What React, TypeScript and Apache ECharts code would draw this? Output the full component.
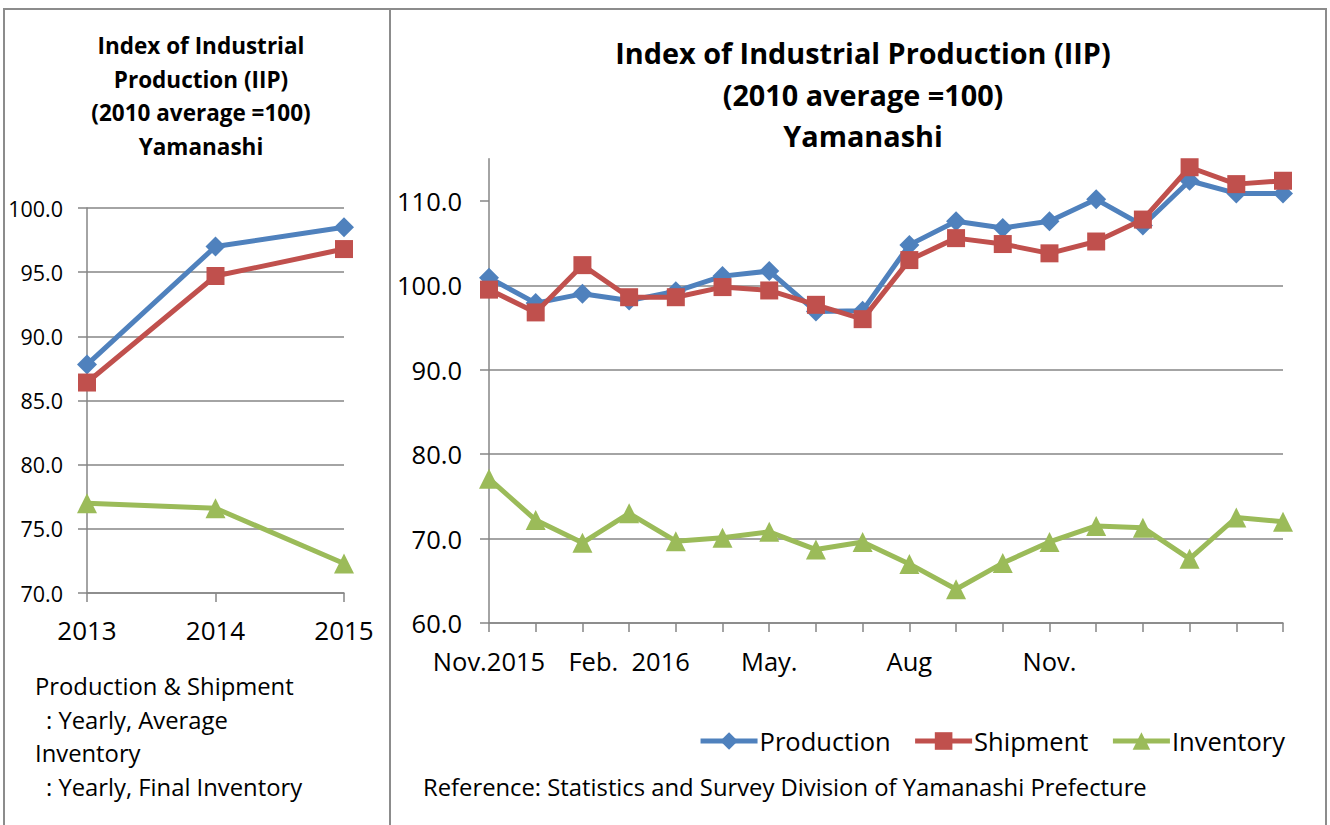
import React, { useEffect, useRef } from 'react';
import * as echarts from 'echarts';

const yearCategories = ['2013', '2014', '2015'];
const yearProduction = [87.8, 97.0, 98.5];
const yearShipment = [86.4, 94.7, 96.8];
const yearInventory = [77.0, 76.6, 72.3];
const leftYTicks = [70, 75, 80, 85, 90, 95, 100];

const monthCategories = [
  'Nov.2015', 'Dec.2015', 'Jan.2016', 'Feb.2016', 'Mar.2016', 'Apr.2016',
  'May.2016', 'Jun.2016', 'Jul.2016', 'Aug.2016', 'Sep.2016', 'Oct.2016',
  'Nov.2016', 'Dec.2016', 'Jan.2017', 'Feb.2017', 'Mar.2017', 'Apr.2017',
];
const monthLabels = [
  'Nov.2015', '', '', 'Feb.  2016', '', '', 'May.', '', '', 'Aug', '', '',
  'Nov.', '', '', '', '', '',
];
const monthProduction = [100.9, 97.9, 99.0, 98.2, 99.3, 101.1, 101.7, 96.9, 97.0, 104.8, 107.6, 106.8, 107.6, 110.2, 107.1, 112.4, 110.9, 110.9];
const monthShipment = [99.5, 96.8, 102.4, 98.6, 98.6, 99.8, 99.4, 97.7, 96.0, 103.0, 105.6, 104.9, 103.8, 105.2, 107.8, 114.0, 112.0, 112.4];
const monthInventory = [77.1, 72.2, 69.5, 73.0, 69.7, 70.1, 70.8, 68.7, 69.6, 67.0, 64.0, 67.1, 69.6, 71.5, 71.3, 67.6, 72.5, 72.0];
const rightYTicks = [60, 70, 80, 90, 100, 110];

const leftTitle = 'Index of Industrial\nProduction (IIP)\n(2010 average =100)\nYamanashi';
const rightTitle = 'Index of Industrial Production (IIP)\n(2010 average =100)\nYamanashi';
const noteLines = ['Production & Shipment', '  : Yearly, Average', 'Inventory', '  : Yearly, Final Inventory'];
const referenceText = 'Reference: Statistics and Survey Division of Yamanashi Prefecture';

const FONT = '"Open Sans", "Noto Sans", sans-serif';
const BLUE = '#4F81BD';
const RED = '#C0504D';
const GREEN = '#9BBB59';
const GRAY = '#868686';

export default function App() {
  const ref = useRef<HTMLDivElement>(null);
  useEffect(() => {
    if (!ref.current) return;
    const chart = echarts.init(ref.current, null, { renderer: 'svg' });
    const axisLine = { show: true, lineStyle: { color: GRAY, width: 1.5 } };
    const mkSeries = (name: string, data: number[], color: string, symbol: string, size: number, idx: number) => ({
      name,
      type: 'line',
      xAxisIndex: idx,
      yAxisIndex: idx,
      data,
      symbol,
      symbolSize: size,
      lineStyle: { color, width: 5 },
      itemStyle: { color },
      z: name === 'Shipment' ? 3 : 2,
    });
    chart.setOption({
      animation: false,
      backgroundColor: '#ffffff',
      textStyle: { fontFamily: FONT },
      title: [
        {
          text: leftTitle,
          left: 196,
          top: 24,
          textAlign: 'center',
          textStyle: { fontFamily: FONT, fontSize: 22.5, fontWeight: 'bold', color: '#000', lineHeight: 33.5 },
        },
        {
          text: rightTitle,
          left: 858,
          top: 27,
          textAlign: 'center',
          textStyle: { fontFamily: FONT, fontSize: 28.8, fontWeight: 'bold', color: '#000', lineHeight: 41.5 },
        },
      ],
      legend: {
        data: ['Production', 'Shipment', 'Inventory'],
        right: 40,
        top: 723,
        itemWidth: 57,
        itemHeight: 22,
        itemGap: 22,
        lineStyle: { width: 5 },
        textStyle: { fontFamily: FONT, fontSize: 25.5, color: '#000', padding: [0, 0, 0, -3] },
      },
      grid: [
        { left: 87, top: 208, width: 257, height: 385 },
        { left: 489, top: 158.8, width: 794, height: 464.2 },
      ],
      xAxis: [
        {
          type: 'category',
          gridIndex: 0,
          data: yearCategories,
          boundaryGap: false,
          axisLine,
          axisTick: { show: true, length: 9, lineStyle: { color: GRAY, width: 1.5 } },
          axisLabel: { margin: 24, fontSize: 26, color: '#000', fontFamily: FONT },
          splitLine: { show: false },
        },
        {
          type: 'category',
          gridIndex: 1,
          data: monthCategories,
          boundaryGap: false,
          axisLine,
          axisTick: { show: true, length: 9, interval: 0, lineStyle: { color: GRAY, width: 1.5 } },
          axisLabel: {
            interval: 0,
            margin: 25,
            fontSize: 25.5,
            color: '#000',
            fontFamily: FONT,
            formatter: (_v: string, i: number) => monthLabels[i],
          },
          splitLine: { show: false },
        },
      ],
      yAxis: [
        {
          type: 'value',
          gridIndex: 0,
          min: 70,
          max: 100,
          interval: 5,
          axisLine,
          axisTick: { show: true, length: 9, lineStyle: { color: GRAY, width: 1.5 }, customValues: leftYTicks },
          axisLabel: {
            customValues: leftYTicks,
            margin: 24,
            fontSize: 21.5,
            color: '#000',
            fontFamily: FONT,
            formatter: (v: number) => v.toFixed(1),
          },
          splitLine: { show: true, lineStyle: { color: GRAY, width: 1.5 } },
        },
        {
          type: 'value',
          gridIndex: 1,
          min: 60,
          max: 115,
          interval: 10,
          axisLine,
          axisTick: { show: true, length: 9, lineStyle: { color: GRAY, width: 1.5 }, customValues: rightYTicks },
          axisLabel: {
            customValues: rightYTicks,
            margin: 27,
            fontSize: 25.5,
            color: '#000',
            fontFamily: FONT,
            formatter: (v: number) => v.toFixed(1),
          },
          splitLine: { show: true, showMaxLine: false, lineStyle: { color: GRAY, width: 1.5 } },
        },
      ],
      series: [
        mkSeries('Production', yearProduction, BLUE, 'diamond', 20, 0),
        mkSeries('Shipment', yearShipment, RED, 'rect', 18, 0),
        mkSeries('Inventory', yearInventory, GREEN, 'triangle', 20, 0),
        mkSeries('Production', monthProduction, BLUE, 'diamond', 20, 1),
        mkSeries('Shipment', monthShipment, RED, 'rect', 18, 1),
        mkSeries('Inventory', monthInventory, GREEN, 'triangle', 20, 1),
      ],
      graphic: [
        { type: 'rect', shape: { x: 4, y: 9, width: 386, height: 830 }, style: { fill: 'none', stroke: '#8C8C8C', lineWidth: 2 }, silent: true },
        { type: 'rect', shape: { x: 390, y: 9, width: 936, height: 830 }, style: { fill: 'none', stroke: '#8C8C8C', lineWidth: 2 }, silent: true },
        ...noteLines.map((t, i) => ({
          type: 'text',
          left: t.startsWith(' ') ? 46 : 35,
          top: 674 + i * 33.7,
          style: { text: t.trim(), fontFamily: FONT, fontSize: 23.8, fill: '#000' },
        })),
        {
          type: 'text',
          left: 423,
          top: 775,
          style: { text: referenceText, fontFamily: FONT, fontSize: 23.8, fill: '#000' },
        },
      ],
    });
    return () => chart.dispose();
  }, []);
  return (
    <div
      ref={ref}
      style={{ position: 'fixed', left: 0, top: 0, width: 1330, height: 825, background: '#fff' }}
    />
  );
}
